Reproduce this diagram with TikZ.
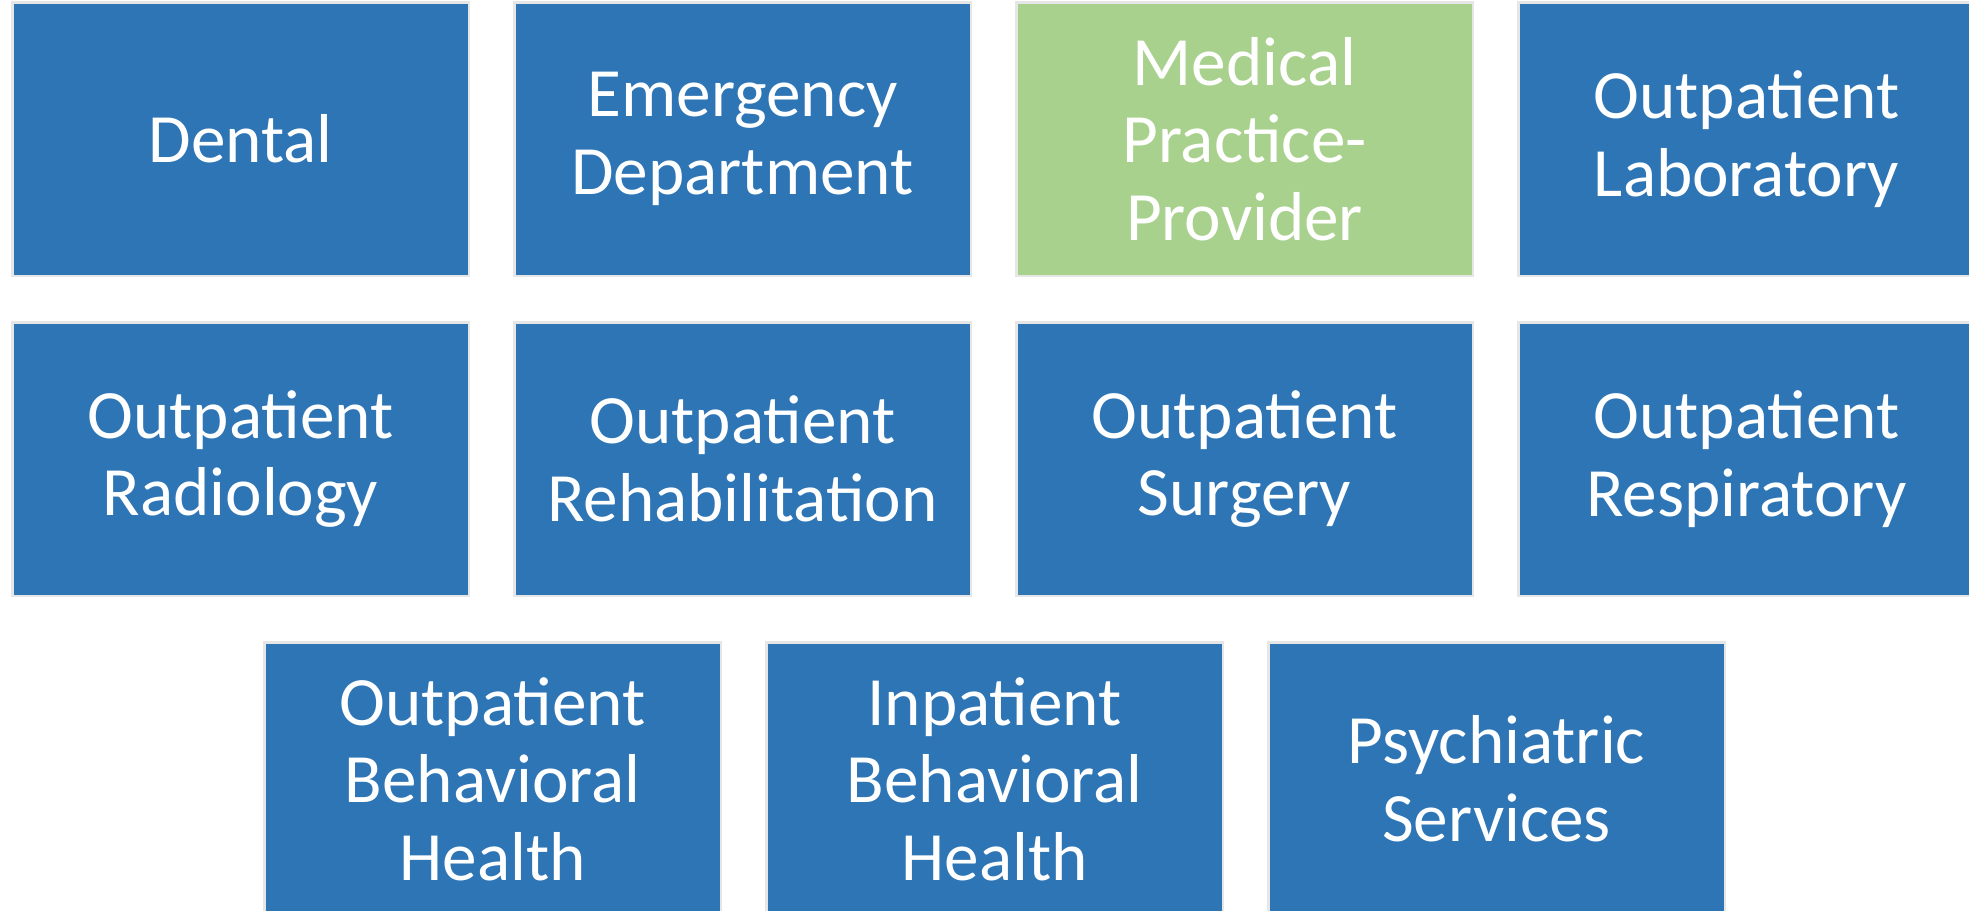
\documentclass[tikz,border=0pt]{standalone}
\usepackage{fontspec}
\setmainfont{Carlito}
\definecolor{boxblue}{HTML}{2E75B6}
\definecolor{boxgreen}{HTML}{A9D18E}
\definecolor{boxedge}{HTML}{E6E6E6}
\begin{document}
\begin{tikzpicture}[x=0.5pt,y=-0.5pt,
  tile/.style={draw=boxedge, line width=1.25pt, fill=boxblue, rectangle,
    minimum width=228.25pt, minimum height=136.75pt, inner sep=0pt, outer sep=0pt,
    text=white, align=center,
    font=\fontsize{34.6pt}{38.8pt}\selectfont},
  greentile/.style={tile, fill=boxgreen}]
\useasboundingbox (0,0) rectangle (1969,910);
\clip (0,0) rectangle (1969,910);
\node[tile] (dental) at (240.5,139) {Dental};
\node[tile] (emerg) at (742.5,139) {Emergency\\Department};
\node[greentile] (medpp) at (1244.5,139) {Medical\\Practice-\\Provider};
\node[tile] (lab) at (1746.5,139) {Outpatient\\Laboratory};
\node[tile] (rad) at (240.5,459) {Outpatient\\Radiology};
\node[tile] (rehab) at (742.5,459) {Outpatient\\Rehabilitation};
\node[tile] (surg) at (1244.5,459) {Outpatient\\Surgery};
\node[tile] (resp) at (1746.5,459) {Outpatient\\Respiratory};
\node[tile] (obh) at (492.5,779) {Outpatient\\Behavioral\\Health};
\node[tile] (ibh) at (994.5,779) {Inpatient\\Behavioral\\Health};
\node[tile] (psych) at (1496.5,779) {Psychiatric\\Services};
\end{tikzpicture}
\end{document}
